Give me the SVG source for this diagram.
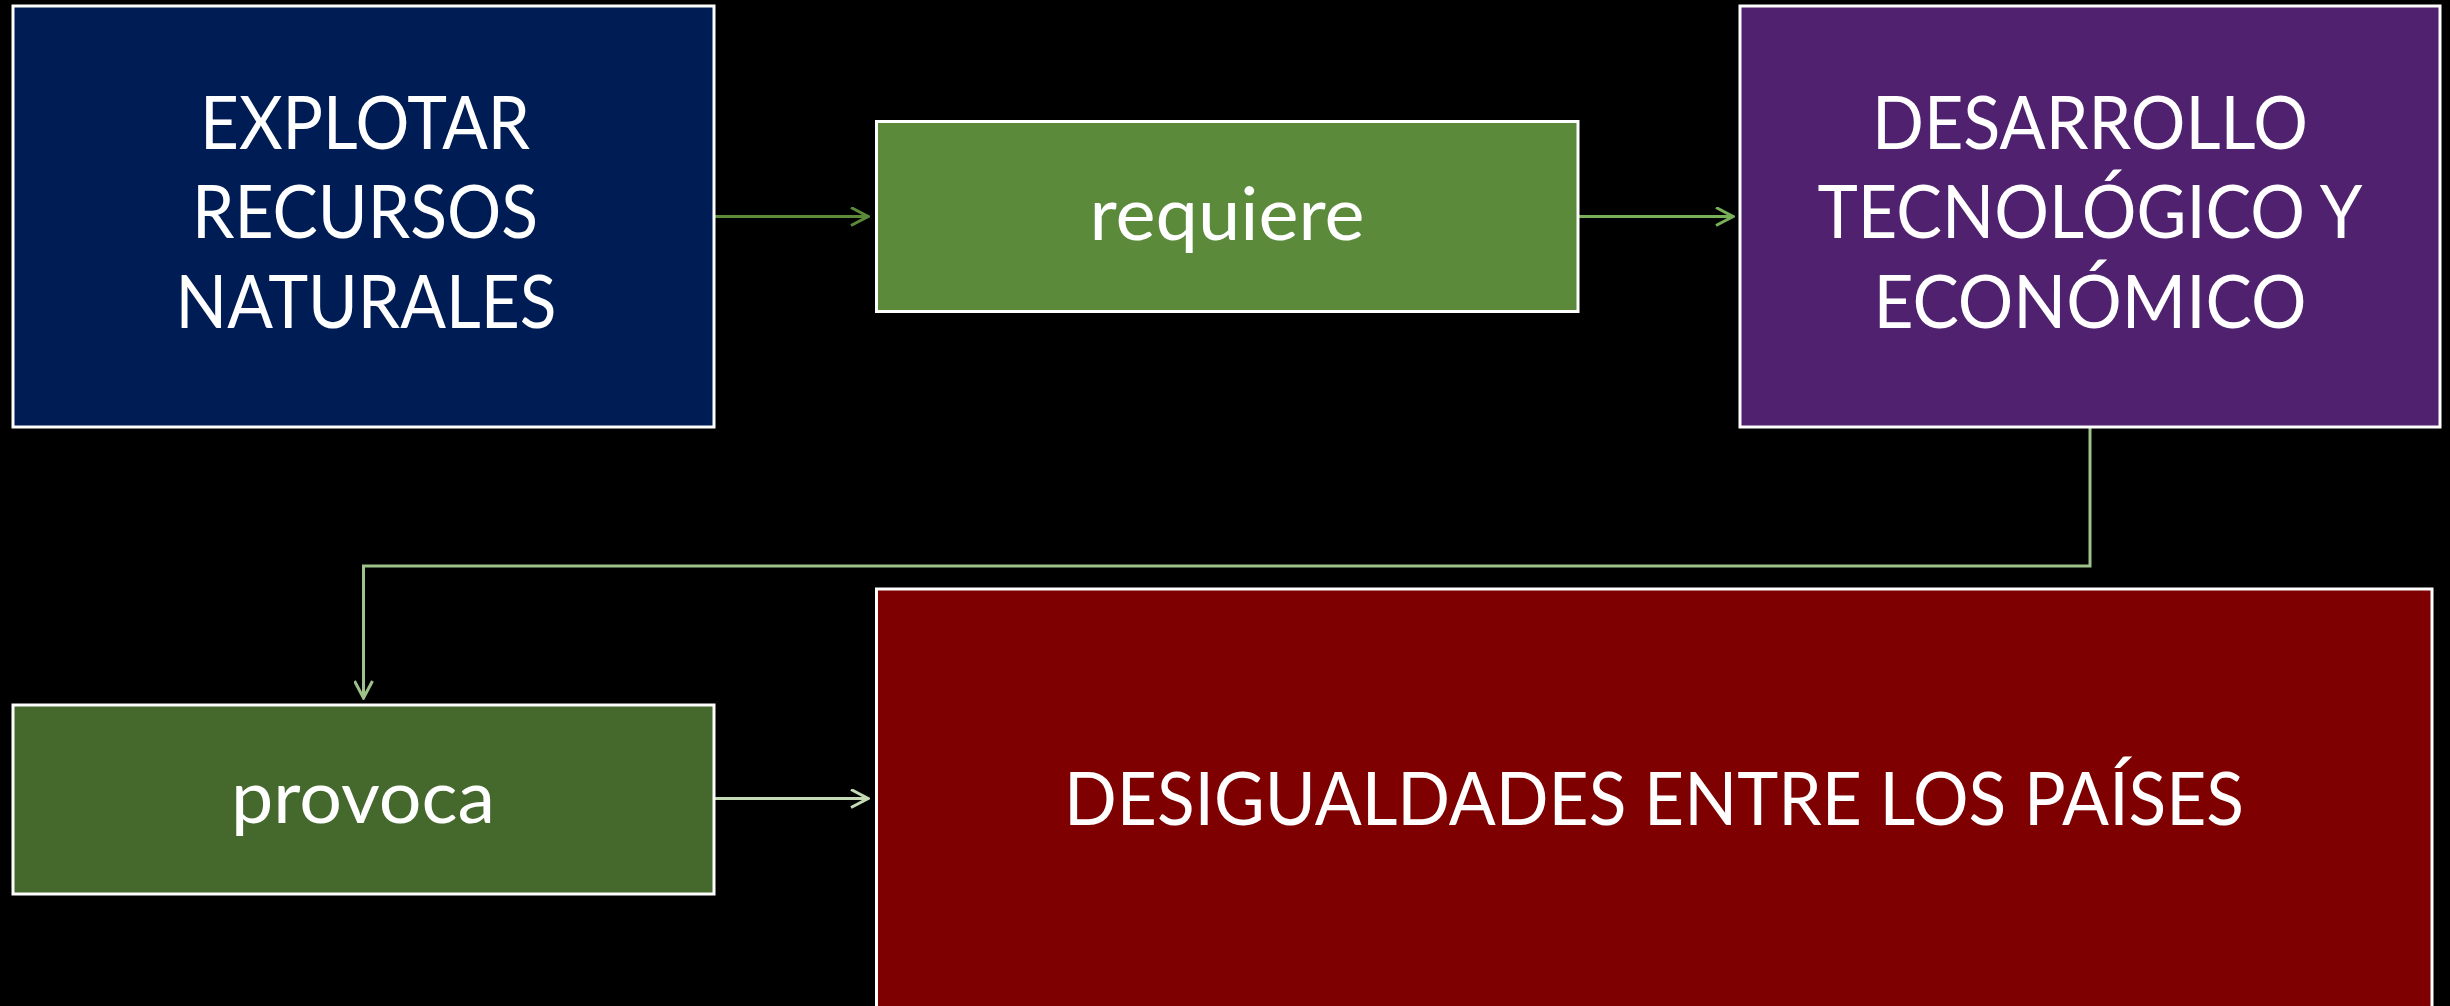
<svg xmlns="http://www.w3.org/2000/svg" width="2450" height="1006" viewBox="0 0 2450 1006">
<defs>
<style>
.box{stroke:#ffffff;stroke-width:3}
.t{font-family:Lato,"Open Sans","Liberation Sans",sans-serif;font-size:74px;fill:#ffffff;text-anchor:middle}
.c{fill:none;stroke-width:3}
</style>
<marker id="a1" markerWidth="20" markerHeight="20" refX="18" refY="10" orient="auto" markerUnits="userSpaceOnUse" viewBox="0 0 20 20"><path d="M1 1 L18 10 L1 19" fill="none" stroke="#5b8a3a" stroke-width="3"/></marker>
<marker id="a2" markerWidth="20" markerHeight="20" refX="18" refY="10" orient="auto" markerUnits="userSpaceOnUse" viewBox="0 0 20 20"><path d="M1 1 L18 10 L1 19" fill="none" stroke="#78b05a" stroke-width="3"/></marker>
<marker id="a3" markerWidth="20" markerHeight="20" refX="18" refY="10" orient="auto" markerUnits="userSpaceOnUse" viewBox="0 0 20 20"><path d="M1 1 L18 10 L1 19" fill="none" stroke="#9dc28a" stroke-width="3"/></marker>
<marker id="a4" markerWidth="20" markerHeight="20" refX="18" refY="10" orient="auto" markerUnits="userSpaceOnUse" viewBox="0 0 20 20"><path d="M1 1 L18 10 L1 19" fill="none" stroke="#c3dab4" stroke-width="3"/></marker>
</defs>
<rect x="0" y="0" width="2450" height="1006" fill="#000000"/>
<g id="connectors">
<path class="c" stroke="#5b8a3a" d="M714 216.5 H868" marker-end="url(#a1)"/>
<path class="c" stroke="#78b05a" d="M1578 216.5 H1733" marker-end="url(#a2)"/>
<path class="c" stroke="#9dc28a" d="M2090 428 V566 H363.5 V698" marker-end="url(#a3)"/>
<path class="c" stroke="#c3dab4" d="M714 798.5 H868" marker-end="url(#a4)"/>
</g>
<g id="node-explotar">
<rect class="box" x="13" y="6" width="701" height="421" fill="#001c54"/>
<text class="t" x="365" y="149" textLength="330" lengthAdjust="spacingAndGlyphs">EXPLOTAR</text>
<text class="t" x="365" y="238" textLength="346" lengthAdjust="spacingAndGlyphs">RECURSOS</text>
<text class="t" x="366" y="328" textLength="381" lengthAdjust="spacingAndGlyphs">NATURALES</text>
</g>
<g id="node-requiere">
<rect class="box" x="876.5" y="121.5" width="701.5" height="190" fill="#5b8a3a"/>
<text class="t" x="1227" y="240" textLength="275" lengthAdjust="spacingAndGlyphs">requiere</text>
</g>
<g id="node-desarrollo">
<rect class="box" x="1740" y="6" width="700" height="421" fill="#4f216e"/>
<text class="t" x="2090" y="149" textLength="436" lengthAdjust="spacingAndGlyphs">DESARROLLO</text>
<text class="t" x="2090" y="238" textLength="545" lengthAdjust="spacingAndGlyphs">TECNOLÓGICO Y</text>
<text class="t" x="2090" y="328" textLength="433" lengthAdjust="spacingAndGlyphs">ECONÓMICO</text>
</g>
<g id="node-provoca">
<rect class="box" x="13" y="705" width="701" height="189" fill="#45692d"/>
<text class="t" x="363" y="823" textLength="264" lengthAdjust="spacingAndGlyphs">provoca</text>
</g>
<g id="node-desigualdades">
<rect class="box" x="876.5" y="589" width="1555.5" height="440" fill="#7f0000"/>
<text class="t" x="1654" y="825" textLength="1180" lengthAdjust="spacingAndGlyphs">DESIGUALDADES ENTRE LOS PAÍSES</text>
</g>
</svg>
